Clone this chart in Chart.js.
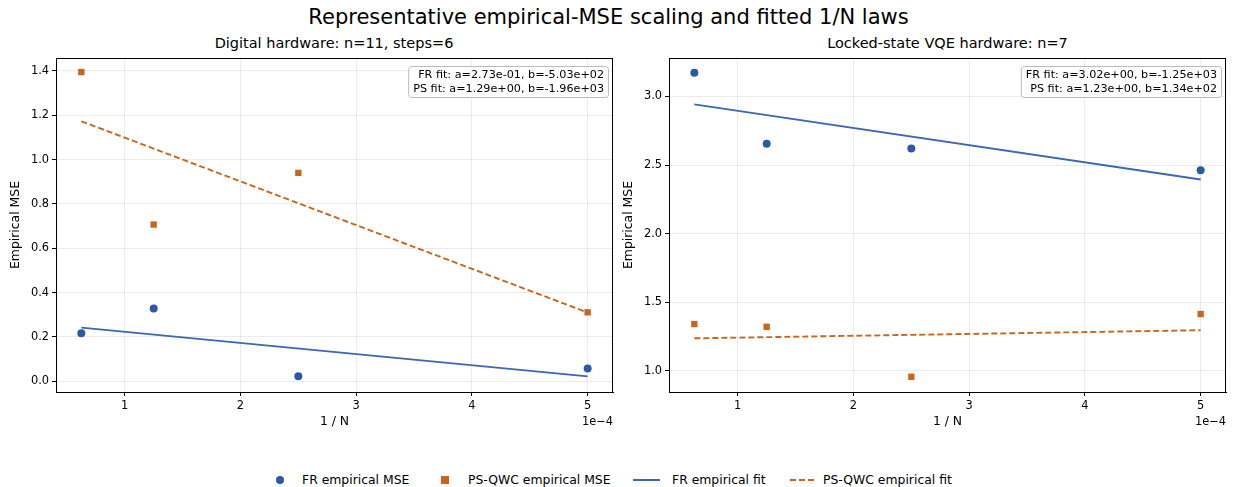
<!DOCTYPE html>
<html>
<head>
<meta charset="utf-8">
<script src="https://cdn.jsdelivr.net/npm/chart.js@4"></script>
<style>
  body { margin: 0; background: #fff; font-family: "DejaVu Sans", sans-serif; }
  #wrap { position: relative; width: 1233px; height: 487px; overflow: hidden; }
  .sup { position: absolute; left: 0; width: 1217px; top: 5px; text-align: center; font-size: 21px; color: #000; }
  .sub { position: absolute; top: 35px; text-align: center; font-size: 14.5px; color: #000; }
  canvas { position: absolute; }
  #legend { position: absolute; top: 472px; left: 0; width: 1233px; font-size: 12.4px; color: #000; }
  #legend span { position: absolute; top: 0; white-space: nowrap; }
</style>
</head>
<body>
<div id="wrap">
  <div class="sup">Representative empirical-MSE scaling and fitted 1/N laws</div>
  <div class="sub" style="left:56px;width:556px;">Digital hardware: n=11, steps=6</div>
  <div class="sub" style="left:669px;width:557px;">Locked-state VQE hardware: n=7</div>
  <canvas id="left" width="620" height="420" style="left:0;top:30px;"></canvas>
  <canvas id="right" width="620" height="420" style="left:613px;top:30px;"></canvas>
  <div id="legend">
    <span style="left:275px;top:1px;"><svg width="10" height="14"><circle cx="5" cy="7" r="4" fill="#2c59a6"/></svg></span>
    <span style="left:302px;">FR empirical MSE</span>
    <span style="left:440px;top:1px;"><svg width="10" height="14"><rect x="1" y="3" width="8" height="8" fill="#c8661e"/></svg></span>
    <span style="left:468px;">PS-QWC empirical MSE</span>
    <span style="left:633px;top:1px;"><svg width="28" height="14"><line x1="0" y1="7" x2="27" y2="7" stroke="#3d66b5" stroke-width="2"/></svg></span>
    <span style="left:672px;">FR empirical fit</span>
    <span style="left:790px;top:1px;"><svg width="28" height="14"><line x1="0" y1="7" x2="27" y2="7" stroke="#c8661e" stroke-width="2" stroke-dasharray="6,3"/></svg></span>
    <span style="left:823px;">PS-QWC empirical fit</span>
  </div>
</div>
<script>
// x values are in units of 1e-4 (1/N for N = 16000, 8000, 4000, 2000)
const invN = [0.625, 1.25, 2.5, 5];
const fitX = [0.625, 5];
const xTicks = [1, 2, 3, 4, 5];

// Digital hardware: n=11, steps=6
const digitalFR = [0.217, 0.328, 0.023, 0.058];
const digitalPS = [1.395, 0.707, 0.94, 0.311];
const digitalFRFit = [0.242, 0.022];
const digitalPSFit = [1.173, 0.310];
const digitalYTicks = [0.0, 0.2, 0.4, 0.6, 0.8, 1.0, 1.2, 1.4];
const digitalNote = ['FR fit: a=2.73e-01, b=-5.03e+02', 'PS fit: a=1.29e+00, b=-1.96e+03'];

// Locked-state VQE hardware: n=7
const vqeFR = [3.172, 2.655, 2.62, 2.462];
const vqePS = [1.342, 1.322, 0.958, 1.415];
const vqeFRFit = [2.942, 2.395];
const vqePSFit = [1.238, 1.297];
const vqeYTicks = [1.0, 1.5, 2.0, 2.5, 3.0];
const vqeNote = ['FR fit: a=3.02e+00, b=-1.25e+03', 'PS fit: a=1.23e+00, b=1.34e+02'];

const blue = '#2c59a6';
const blueLine = '#3d66b5';
const orange = '#c8661e';
const gridCol = 'rgba(0,0,0,0.08)';
const tickFont = { family: 'DejaVu Sans', size: 11.4 };
const labelFont = { family: 'DejaVu Sans', size: 12.4 };

function pts(xs, ys) {
  return xs.map((x, i) => ({ x: x, y: ys[i] }));
}

// frame, fit box, offset text
const extras = {
  id: 'extras',
  afterDraw(chart, args, opts) {
    const ctx = chart.ctx;
    const a = chart.chartArea;
    ctx.save();
    ctx.strokeStyle = '#000';
    ctx.lineWidth = 1;
    ctx.strokeRect(a.left + 0.5, a.top + 0.5, a.right - a.left - 1, a.bottom - a.top);

    ctx.font = '11.2px "DejaVu Sans"';
    const lines = opts.note;
    const w = Math.max(...lines.map(l => ctx.measureText(l).width));
    const bx = a.right - 9 - w - 5;
    const by = a.top + 8;
    const bh = 31;
    ctx.beginPath();
    ctx.roundRect(bx + 0.5, by + 0.5, w + 9, bh, 3);
    ctx.fillStyle = 'rgba(255,255,255,0.85)';
    ctx.fill();
    ctx.strokeStyle = '#bbbbbb';
    ctx.stroke();
    ctx.fillStyle = '#000';
    ctx.textAlign = 'right';
    ctx.textBaseline = 'middle';
    ctx.fillText(lines[0], a.right - 9, by + 9);
    ctx.fillText(lines[1], a.right - 9, by + 23);

    ctx.font = '11.4px "DejaVu Sans"';
    ctx.textAlign = 'right';
    ctx.fillText('1e\u22124', a.right, a.bottom + 30);
    ctx.restore();
  }
};

function makeChart(id, fr, ps, frFit, psFit, yTicks, note, yMin, yMax, yDigits) {
  new Chart(document.getElementById(id), {
    type: 'scatter',
    data: {
      datasets: [
        { label: 'FR empirical MSE', data: pts(invN, fr), backgroundColor: blue, borderColor: blue,
          pointStyle: 'circle', pointRadius: 4, pointBorderWidth: 0 },
        { label: 'PS-QWC empirical MSE', data: pts(invN, ps), backgroundColor: orange, borderColor: orange,
          pointStyle: 'rect', pointRadius: 4.5, pointBorderWidth: 0 },
        { label: 'FR empirical fit', type: 'line', data: pts(fitX, frFit), borderColor: blueLine,
          borderWidth: 1.9, pointRadius: 0, fill: false },
        { label: 'PS-QWC empirical fit', type: 'line', data: pts(fitX, psFit), borderColor: orange,
          borderWidth: 1.9, borderDash: [6, 3], pointRadius: 0, fill: false }
      ]
    },
    options: {
      responsive: false,
      animation: false,
      layout: { padding: { top: 28, right: 7, left: 0, bottom: 0 } },
      plugins: {
        legend: { display: false },
        tooltip: { enabled: false },
        extras: { note: note }
      },
      scales: {
        x: {
          type: 'linear', min: 0.406, max: 5.219,
          afterFit: s => { s.height = 58; },
          afterBuildTicks: s => { s.ticks = xTicks.map(v => ({ value: v })); },
          ticks: { color: '#000', font: tickFont, padding: 3, callback: v => String(v) },
          grid: { color: gridCol, tickColor: '#000', tickLength: 4 },
          border: { color: '#000' },
          title: { display: true, text: '1 / N', color: '#000', font: labelFont, padding: { top: 2, bottom: 21 } }
        },
        y: {
          min: yMin, max: yMax,
          afterFit: s => { s.width = 56; },
          afterBuildTicks: s => { s.ticks = yTicks.map(v => ({ value: v })); },
          ticks: { color: '#000', font: tickFont, padding: 3, callback: v => v.toFixed(yDigits) },
          grid: { color: gridCol, tickColor: '#000', tickLength: 4 },
          border: { color: '#000' },
          title: { display: true, text: 'Empirical MSE', color: '#000', font: labelFont, padding: { top: 8, bottom: 4 } }
        }
      }
    },
    plugins: [extras]
  });
}

makeChart('left', digitalFR, digitalPS, digitalFRFit, digitalPSFit, digitalYTicks, digitalNote, -0.0485, 1.4585, 1);
makeChart('right', vqeFR, vqePS, vqeFRFit, vqePSFit, vqeYTicks, vqeNote, 0.847, 3.28, 1);
</script>
</body>
</html>
